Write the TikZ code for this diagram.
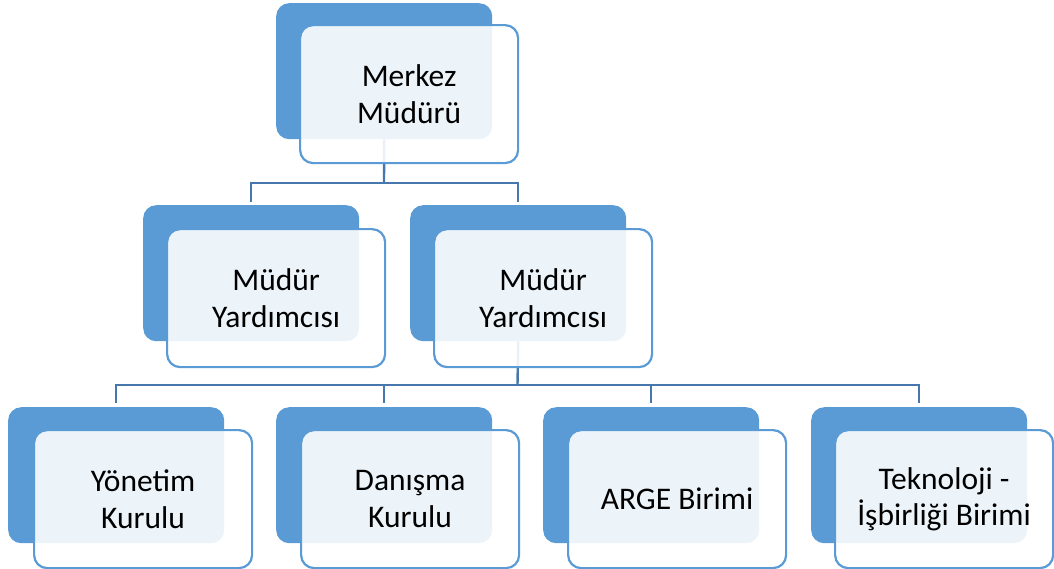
\documentclass[tikz,border=0pt]{standalone}
\usepackage{fontspec}
\setmainfont{Carlito}
\definecolor{boxblue}{HTML}{5B9BD5}
\definecolor{edgeblue}{HTML}{5B9BD5}
\definecolor{connblue}{HTML}{4677AD}
\begin{document}
\begin{tikzpicture}[x=1pt,y=-1pt,
  backbox/.style={anchor=north west,rectangle,rounded corners=13pt,fill=boxblue,minimum width=216pt,minimum height=136pt,inner sep=0pt},
  frontbox/.style={anchor=north west,rectangle,rounded corners=13pt,fill=white,fill opacity=0.89,text opacity=1,draw=edgeblue,draw opacity=1,line width=2.2pt,minimum width=218pt,minimum height=138pt,inner sep=0pt,align=center,font=\fontsize{31.5}{36.5}\selectfont},
  conn/.style={draw=connblue,line width=2.4pt}]
\useasboundingbox (0,0) rectangle (1054,568);
% back boxes
\node[backbox] (b1) at (276,3) {};
\node[backbox] (b2) at (143,205) {};
\node[backbox] (b3) at (410,205) {};
\node[backbox] (b4) at (8,407) {};
\node[backbox] (b5) at (276,407) {};
\node[backbox] (b6) at (543,407) {};
\node[backbox] (b7) at (811,407) {};
% connectors
\coordinate (h1) at (384,183);
\coordinate (h2) at (517.5,385);
\draw[conn] (b1.south) -- (h1);
\draw[conn,shorten >=3pt] (h1) -| (b2.north);
\draw[conn,shorten >=3pt] (h1) -| (b3.north);
\draw[conn] (b3.south) -- (h2);
\draw[conn,shorten >=4pt] (h2) -| (b4.north);
\draw[conn,shorten >=4pt] (h2) -| (b5.north);
\draw[conn,shorten >=4pt] (h2) -| (b6.north);
\draw[conn,shorten >=4pt] (h2) -| (b7.north);
% front boxes
\node[frontbox] (f1) at (299,24) {Merkez\\Müdürü};
\node[frontbox] (f2) at (166,228) {Müdür\\Yardımcısı};
\node[frontbox] (f3) at (433,228) {Müdür\\Yardımcısı};
\node[frontbox] (f4) at (33,429) {Yönetim\\Kurulu};
\node[frontbox] (f5) at (300,429) {Danışma\\Kurulu};
\node[frontbox] (f6) at (567,429) {ARGE Birimi};
\node[frontbox] (f7) at (834,429) {Teknoloji -\\İşbirliği Birimi};
\end{tikzpicture}
\end{document}
